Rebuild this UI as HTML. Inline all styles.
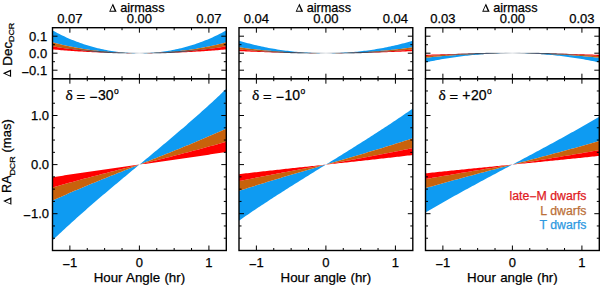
<!DOCTYPE html>
<html><head><meta charset="utf-8"><style>html,body{margin:0;padding:0;background:#fff;width:600px;height:285px;overflow:hidden}svg{display:block}</style></head>
<body><svg width="600" height="285" viewBox="0 0 600 285">
<style>text{stroke:#000;stroke-width:0.25;paint-order:normal}</style>
<rect width="600" height="285" fill="#fff"/>
<clipPath id="ct0"><rect x="52.5" y="27.7" width="173.8" height="51.0"/></clipPath>
<clipPath id="cb0"><rect x="52.5" y="78.7" width="173.8" height="171.8"/></clipPath>
<polygon clip-path="url(#ct0)" fill="#0e9bf2" stroke="#0e9bf2" stroke-width="0.0" stroke-linejoin="round" points="52.50,42.37 54.24,42.83 55.98,43.27 57.71,43.70 59.45,44.12 61.19,44.53 62.93,44.93 64.67,45.32 66.40,45.70 68.14,46.07 69.88,46.42 71.62,46.77 73.36,47.11 75.09,47.43 76.83,47.75 78.57,48.06 80.31,48.36 82.05,48.64 83.78,48.92 85.52,49.19 87.26,49.45 89.00,49.70 90.74,49.94 92.47,50.18 94.21,50.40 95.95,50.61 97.69,50.82 99.43,51.02 101.16,51.20 102.90,51.38 104.64,51.55 106.38,51.72 108.12,51.87 109.85,52.01 111.59,52.15 113.33,52.28 115.07,52.40 116.81,52.51 118.54,52.61 120.28,52.71 122.02,52.79 123.76,52.87 125.50,52.94 127.23,53.00 128.97,53.05 130.71,53.10 132.45,53.13 134.19,53.16 135.92,53.18 137.66,53.20 139.40,53.20 141.14,53.20 142.88,53.18 144.61,53.16 146.35,53.13 148.09,53.10 149.83,53.05 151.57,53.00 153.30,52.94 155.04,52.87 156.78,52.79 158.52,52.71 160.26,52.61 161.99,52.51 163.73,52.40 165.47,52.28 167.21,52.15 168.95,52.01 170.68,51.87 172.42,51.72 174.16,51.55 175.90,51.38 177.64,51.20 179.37,51.02 181.11,50.82 182.85,50.61 184.59,50.40 186.33,50.18 188.06,49.94 189.80,49.70 191.54,49.45 193.28,49.19 195.02,48.92 196.75,48.64 198.49,48.36 200.23,48.06 201.97,47.75 203.71,47.43 205.44,47.11 207.18,46.77 208.92,46.42 210.66,46.07 212.40,45.70 214.13,45.32 215.87,44.93 217.61,44.53 219.35,44.12 221.09,43.70 222.82,43.27 224.56,42.83 226.30,42.37 226.30,30.40 224.56,31.35 222.82,32.29 221.09,33.19 219.35,34.08 217.61,34.94 215.87,35.78 214.13,36.60 212.40,37.40 210.66,38.17 208.92,38.93 207.18,39.66 205.44,40.37 203.71,41.05 201.97,41.72 200.23,42.37 198.49,43.00 196.75,43.60 195.02,44.19 193.28,44.76 191.54,45.31 189.80,45.83 188.06,46.34 186.33,46.83 184.59,47.30 182.85,47.75 181.11,48.19 179.37,48.60 177.64,49.00 175.90,49.37 174.16,49.73 172.42,50.07 170.68,50.40 168.95,50.70 167.21,50.99 165.47,51.26 163.73,51.51 161.99,51.74 160.26,51.96 158.52,52.16 156.78,52.34 155.04,52.50 153.30,52.65 151.57,52.78 149.83,52.89 148.09,52.99 146.35,53.06 144.61,53.12 142.88,53.17 141.14,53.19 139.40,53.20 137.66,53.19 135.92,53.17 134.19,53.12 132.45,53.06 130.71,52.99 128.97,52.89 127.23,52.78 125.50,52.65 123.76,52.50 122.02,52.34 120.28,52.16 118.54,51.96 116.81,51.74 115.07,51.51 113.33,51.26 111.59,50.99 109.85,50.70 108.12,50.40 106.38,50.07 104.64,49.73 102.90,49.37 101.16,49.00 99.43,48.60 97.69,48.19 95.95,47.75 94.21,47.30 92.47,46.83 90.74,46.34 89.00,45.83 87.26,45.31 85.52,44.76 83.78,44.19 82.05,43.60 80.31,43.00 78.57,42.37 76.83,41.72 75.09,41.05 73.36,40.37 71.62,39.66 69.88,38.93 68.14,38.17 66.40,37.40 64.67,36.60 62.93,35.78 61.19,34.94 59.45,34.08 57.71,33.19 55.98,32.29 54.24,31.35 52.50,30.40"/>
<polygon clip-path="url(#ct0)" fill="#c8620c" stroke="#c8620c" stroke-width="0.0" stroke-linejoin="round" points="52.50,46.30 54.24,46.59 55.98,46.87 57.71,47.15 59.45,47.42 61.19,47.68 62.93,47.93 64.67,48.18 66.40,48.42 68.14,48.66 69.88,48.88 71.62,49.10 73.36,49.32 75.09,49.53 76.83,49.73 78.57,49.92 80.31,50.11 82.05,50.30 83.78,50.48 85.52,50.65 87.26,50.81 89.00,50.97 90.74,51.13 92.47,51.27 94.21,51.42 95.95,51.55 97.69,51.68 99.43,51.81 101.16,51.93 102.90,52.04 104.64,52.15 106.38,52.25 108.12,52.35 109.85,52.44 111.59,52.53 113.33,52.61 115.07,52.69 116.81,52.76 118.54,52.82 120.28,52.88 122.02,52.94 123.76,52.99 125.50,53.03 127.23,53.07 128.97,53.11 130.71,53.14 132.45,53.16 134.19,53.18 135.92,53.19 137.66,53.20 139.40,53.20 141.14,53.20 142.88,53.19 144.61,53.18 146.35,53.16 148.09,53.14 149.83,53.11 151.57,53.07 153.30,53.03 155.04,52.99 156.78,52.94 158.52,52.88 160.26,52.82 161.99,52.76 163.73,52.69 165.47,52.61 167.21,52.53 168.95,52.44 170.68,52.35 172.42,52.25 174.16,52.15 175.90,52.04 177.64,51.93 179.37,51.81 181.11,51.68 182.85,51.55 184.59,51.42 186.33,51.27 188.06,51.13 189.80,50.97 191.54,50.81 193.28,50.65 195.02,50.48 196.75,50.30 198.49,50.11 200.23,49.92 201.97,49.73 203.71,49.53 205.44,49.32 207.18,49.10 208.92,48.88 210.66,48.66 212.40,48.42 214.13,48.18 215.87,47.93 217.61,47.68 219.35,47.42 221.09,47.15 222.82,46.87 224.56,46.59 226.30,46.30 226.30,42.37 224.56,42.83 222.82,43.27 221.09,43.70 219.35,44.12 217.61,44.53 215.87,44.93 214.13,45.32 212.40,45.70 210.66,46.07 208.92,46.42 207.18,46.77 205.44,47.11 203.71,47.43 201.97,47.75 200.23,48.06 198.49,48.36 196.75,48.64 195.02,48.92 193.28,49.19 191.54,49.45 189.80,49.70 188.06,49.94 186.33,50.18 184.59,50.40 182.85,50.61 181.11,50.82 179.37,51.02 177.64,51.20 175.90,51.38 174.16,51.55 172.42,51.72 170.68,51.87 168.95,52.01 167.21,52.15 165.47,52.28 163.73,52.40 161.99,52.51 160.26,52.61 158.52,52.71 156.78,52.79 155.04,52.87 153.30,52.94 151.57,53.00 149.83,53.05 148.09,53.10 146.35,53.13 144.61,53.16 142.88,53.18 141.14,53.20 139.40,53.20 137.66,53.20 135.92,53.18 134.19,53.16 132.45,53.13 130.71,53.10 128.97,53.05 127.23,53.00 125.50,52.94 123.76,52.87 122.02,52.79 120.28,52.71 118.54,52.61 116.81,52.51 115.07,52.40 113.33,52.28 111.59,52.15 109.85,52.01 108.12,51.87 106.38,51.72 104.64,51.55 102.90,51.38 101.16,51.20 99.43,51.02 97.69,50.82 95.95,50.61 94.21,50.40 92.47,50.18 90.74,49.94 89.00,49.70 87.26,49.45 85.52,49.19 83.78,48.92 82.05,48.64 80.31,48.36 78.57,48.06 76.83,47.75 75.09,47.43 73.36,47.11 71.62,46.77 69.88,46.42 68.14,46.07 66.40,45.70 64.67,45.32 62.93,44.93 61.19,44.53 59.45,44.12 57.71,43.70 55.98,43.27 54.24,42.83 52.50,42.37"/>
<polygon clip-path="url(#ct0)" fill="#ff0000" stroke="#ff0000" stroke-width="0.0" stroke-linejoin="round" points="52.50,49.38 54.24,49.54 55.98,49.70 57.71,49.85 59.45,50.00 61.19,50.14 62.93,50.28 64.67,50.42 66.40,50.55 68.14,50.68 69.88,50.81 71.62,50.93 73.36,51.05 75.09,51.17 76.83,51.28 78.57,51.39 80.31,51.49 82.05,51.59 83.78,51.69 85.52,51.79 87.26,51.88 89.00,51.97 90.74,52.05 92.47,52.13 94.21,52.21 95.95,52.29 97.69,52.36 99.43,52.43 101.16,52.50 102.90,52.56 104.64,52.62 106.38,52.68 108.12,52.73 109.85,52.78 111.59,52.83 113.33,52.87 115.07,52.92 116.81,52.96 118.54,52.99 120.28,53.03 122.02,53.06 123.76,53.08 125.50,53.11 127.23,53.13 128.97,53.15 130.71,53.16 132.45,53.18 134.19,53.19 135.92,53.19 137.66,53.20 139.40,53.20 141.14,53.20 142.88,53.19 144.61,53.19 146.35,53.18 148.09,53.16 149.83,53.15 151.57,53.13 153.30,53.11 155.04,53.08 156.78,53.06 158.52,53.03 160.26,52.99 161.99,52.96 163.73,52.92 165.47,52.87 167.21,52.83 168.95,52.78 170.68,52.73 172.42,52.68 174.16,52.62 175.90,52.56 177.64,52.50 179.37,52.43 181.11,52.36 182.85,52.29 184.59,52.21 186.33,52.13 188.06,52.05 189.80,51.97 191.54,51.88 193.28,51.79 195.02,51.69 196.75,51.59 198.49,51.49 200.23,51.39 201.97,51.28 203.71,51.17 205.44,51.05 207.18,50.93 208.92,50.81 210.66,50.68 212.40,50.55 214.13,50.42 215.87,50.28 217.61,50.14 219.35,50.00 221.09,49.85 222.82,49.70 224.56,49.54 226.30,49.38 226.30,46.30 224.56,46.59 222.82,46.87 221.09,47.15 219.35,47.42 217.61,47.68 215.87,47.93 214.13,48.18 212.40,48.42 210.66,48.66 208.92,48.88 207.18,49.10 205.44,49.32 203.71,49.53 201.97,49.73 200.23,49.92 198.49,50.11 196.75,50.30 195.02,50.48 193.28,50.65 191.54,50.81 189.80,50.97 188.06,51.13 186.33,51.27 184.59,51.42 182.85,51.55 181.11,51.68 179.37,51.81 177.64,51.93 175.90,52.04 174.16,52.15 172.42,52.25 170.68,52.35 168.95,52.44 167.21,52.53 165.47,52.61 163.73,52.69 161.99,52.76 160.26,52.82 158.52,52.88 156.78,52.94 155.04,52.99 153.30,53.03 151.57,53.07 149.83,53.11 148.09,53.14 146.35,53.16 144.61,53.18 142.88,53.19 141.14,53.20 139.40,53.20 137.66,53.20 135.92,53.19 134.19,53.18 132.45,53.16 130.71,53.14 128.97,53.11 127.23,53.07 125.50,53.03 123.76,52.99 122.02,52.94 120.28,52.88 118.54,52.82 116.81,52.76 115.07,52.69 113.33,52.61 111.59,52.53 109.85,52.44 108.12,52.35 106.38,52.25 104.64,52.15 102.90,52.04 101.16,51.93 99.43,51.81 97.69,51.68 95.95,51.55 94.21,51.42 92.47,51.27 90.74,51.13 89.00,50.97 87.26,50.81 85.52,50.65 83.78,50.48 82.05,50.30 80.31,50.11 78.57,49.92 76.83,49.73 75.09,49.53 73.36,49.32 71.62,49.10 69.88,48.88 68.14,48.66 66.40,48.42 64.67,48.18 62.93,47.93 61.19,47.68 59.45,47.42 57.71,47.15 55.98,46.87 54.24,46.59 52.50,46.30"/>
<linearGradient id="lg0" gradientUnits="userSpaceOnUse" x1="52.5" y1="0" x2="226.3" y2="0"><stop offset="0" stop-color="#30475e" stop-opacity="0"/><stop offset="0.14" stop-color="#30475e" stop-opacity="0.3"/><stop offset="0.3" stop-color="#30475e" stop-opacity="0.95"/><stop offset="0.42" stop-color="#30475e" stop-opacity="0.5"/><stop offset="0.5" stop-color="#30475e" stop-opacity="0.12"/><stop offset="0.58" stop-color="#30475e" stop-opacity="0.5"/><stop offset="0.7" stop-color="#30475e" stop-opacity="0.95"/><stop offset="0.86" stop-color="#30475e" stop-opacity="0.3"/><stop offset="1" stop-color="#30475e" stop-opacity="0"/></linearGradient>
<path d="M52.50,45.78 L54.24,46.10 L55.98,46.40 L57.71,46.69 L59.45,46.98 L61.19,47.26 L62.93,47.54 L64.67,47.80 L66.40,48.06 L68.14,48.31 L69.88,48.56 L71.62,48.80 L73.36,49.03 L75.09,49.25 L76.83,49.47 L78.57,49.68 L80.31,49.88 L82.05,50.08 L83.78,50.27 L85.52,50.45 L87.26,50.63 L89.00,50.80 L90.74,50.97 L92.47,51.13 L94.21,51.28 L95.95,51.43 L97.69,51.57 L99.43,51.70 L101.16,51.83 L102.90,51.96 L104.64,52.07 L106.38,52.18 L108.12,52.29 L109.85,52.39 L111.59,52.48 L113.33,52.57 L115.07,52.65 L116.81,52.73 L118.54,52.80 L120.28,52.86 L122.02,52.92 L123.76,52.97 L125.50,53.02 L127.23,53.06 L128.97,53.10 L130.71,53.13 L132.45,53.16 L134.19,53.17 L135.92,53.19 L137.66,53.20 L139.40,53.20 L141.14,53.20 L142.88,53.19 L144.61,53.17 L146.35,53.16 L148.09,53.13 L149.83,53.10 L151.57,53.06 L153.30,53.02 L155.04,52.97 L156.78,52.92 L158.52,52.86 L160.26,52.80 L161.99,52.73 L163.73,52.65 L165.47,52.57 L167.21,52.48 L168.95,52.39 L170.68,52.29 L172.42,52.18 L174.16,52.07 L175.90,51.96 L177.64,51.83 L179.37,51.70 L181.11,51.57 L182.85,51.43 L184.59,51.28 L186.33,51.13 L188.06,50.97 L189.80,50.80 L191.54,50.63 L193.28,50.45 L195.02,50.27 L196.75,50.08 L198.49,49.88 L200.23,49.68 L201.97,49.47 L203.71,49.25 L205.44,49.03 L207.18,48.80 L208.92,48.56 L210.66,48.31 L212.40,48.06 L214.13,47.80 L215.87,47.54 L217.61,47.26 L219.35,46.98 L221.09,46.69 L222.82,46.40 L224.56,46.10 L226.30,45.78" fill="none" stroke="url(#lg0)" stroke-width="1.2" clip-path="url(#ct0)"/>
<polygon clip-path="url(#cb0)" fill="#0e9bf2" stroke="#0e9bf2" stroke-width="0.0" stroke-linejoin="round" points="52.50,200.61 54.24,199.81 55.98,199.02 57.71,198.24 59.45,197.46 61.19,196.68 62.93,195.91 64.67,195.14 66.40,194.38 68.14,193.62 69.88,192.87 71.62,192.11 73.36,191.37 75.09,190.62 76.83,189.88 78.57,189.14 80.31,188.41 82.05,187.67 83.78,186.95 85.52,186.22 87.26,185.50 89.00,184.78 90.74,184.06 92.47,183.34 94.21,182.63 95.95,181.92 97.69,181.21 99.43,180.50 101.16,179.80 102.90,179.09 104.64,178.39 106.38,177.69 108.12,176.99 109.85,176.30 111.59,175.60 113.33,174.91 115.07,174.21 116.81,173.52 118.54,172.83 120.28,172.14 122.02,171.45 123.76,170.77 125.50,170.08 127.23,169.39 128.97,168.71 130.71,168.02 132.45,167.34 134.19,166.65 135.92,165.97 137.66,165.28 139.40,164.60 141.14,163.92 142.88,163.23 144.61,162.55 146.35,161.86 148.09,161.18 149.83,160.49 151.57,159.81 153.30,159.12 155.04,158.43 156.78,157.75 158.52,157.06 160.26,156.37 161.99,155.68 163.73,154.99 165.47,154.29 167.21,153.60 168.95,152.90 170.68,152.21 172.42,151.51 174.16,150.81 175.90,150.11 177.64,149.40 179.37,148.70 181.11,147.99 182.85,147.28 184.59,146.57 186.33,145.86 188.06,145.14 189.80,144.42 191.54,143.70 193.28,142.98 195.02,142.25 196.75,141.53 198.49,140.79 200.23,140.06 201.97,139.32 203.71,138.58 205.44,137.83 207.18,137.09 208.92,136.33 210.66,135.58 212.40,134.82 214.13,134.06 215.87,133.29 217.61,132.52 219.35,131.74 221.09,130.96 222.82,130.18 224.56,129.39 226.30,128.59 226.30,88.76 224.56,90.44 222.82,92.10 221.09,93.75 219.35,95.39 217.61,97.03 215.87,98.65 214.13,100.27 212.40,101.88 210.66,103.48 208.92,105.07 207.18,106.65 205.44,108.23 203.71,109.80 201.97,111.36 200.23,112.91 198.49,114.46 196.75,116.00 195.02,117.54 193.28,119.07 191.54,120.59 189.80,122.11 188.06,123.62 186.33,125.13 184.59,126.63 182.85,128.13 181.11,129.62 179.37,131.11 177.64,132.60 175.90,134.08 174.16,135.56 172.42,137.03 170.68,138.50 168.95,139.97 167.21,141.43 165.47,142.89 163.73,144.35 161.99,145.81 160.26,147.26 158.52,148.71 156.78,150.16 155.04,151.61 153.30,153.06 151.57,154.51 149.83,155.95 148.09,157.39 146.35,158.84 144.61,160.28 142.88,161.72 141.14,163.16 139.40,164.60 137.66,166.04 135.92,167.48 134.19,168.92 132.45,170.36 130.71,171.81 128.97,173.25 127.23,174.69 125.50,176.14 123.76,177.59 122.02,179.04 120.28,180.49 118.54,181.94 116.81,183.39 115.07,184.85 113.33,186.31 111.59,187.77 109.85,189.23 108.12,190.70 106.38,192.17 104.64,193.64 102.90,195.12 101.16,196.60 99.43,198.09 97.69,199.58 95.95,201.07 94.21,202.57 92.47,204.07 90.74,205.58 89.00,207.09 87.26,208.61 85.52,210.13 83.78,211.66 82.05,213.20 80.31,214.74 78.57,216.29 76.83,217.84 75.09,219.40 73.36,220.97 71.62,222.55 69.88,224.13 68.14,225.72 66.40,227.32 64.67,228.93 62.93,230.55 61.19,232.17 59.45,233.81 57.71,235.45 55.98,237.10 54.24,238.76 52.50,240.44"/>
<polygon clip-path="url(#cb0)" fill="#c8620c" stroke="#c8620c" stroke-width="0.0" stroke-linejoin="round" points="52.50,187.54 54.24,187.03 55.98,186.53 57.71,186.03 59.45,185.53 61.19,185.04 62.93,184.54 64.67,184.06 66.40,183.57 68.14,183.09 69.88,182.60 71.62,182.13 73.36,181.65 75.09,181.18 76.83,180.70 78.57,180.23 80.31,179.76 82.05,179.30 83.78,178.83 85.52,178.37 87.26,177.91 89.00,177.45 90.74,176.99 92.47,176.54 94.21,176.08 95.95,175.63 97.69,175.18 99.43,174.73 101.16,174.28 102.90,173.83 104.64,173.38 106.38,172.94 108.12,172.49 109.85,172.05 111.59,171.61 113.33,171.17 115.07,170.72 116.81,170.28 118.54,169.84 120.28,169.40 122.02,168.97 123.76,168.53 125.50,168.09 127.23,167.65 128.97,167.22 130.71,166.78 132.45,166.34 134.19,165.91 135.92,165.47 137.66,165.04 139.40,164.60 141.14,164.16 142.88,163.73 144.61,163.29 146.35,162.86 148.09,162.42 149.83,161.98 151.57,161.55 153.30,161.11 155.04,160.67 156.78,160.23 158.52,159.80 160.26,159.36 161.99,158.92 163.73,158.48 165.47,158.03 167.21,157.59 168.95,157.15 170.68,156.71 172.42,156.26 174.16,155.82 175.90,155.37 177.64,154.92 179.37,154.47 181.11,154.02 182.85,153.57 184.59,153.12 186.33,152.66 188.06,152.21 189.80,151.75 191.54,151.29 193.28,150.83 195.02,150.37 196.75,149.90 198.49,149.44 200.23,148.97 201.97,148.50 203.71,148.02 205.44,147.55 207.18,147.07 208.92,146.60 210.66,146.11 212.40,145.63 214.13,145.14 215.87,144.66 217.61,144.16 219.35,143.67 221.09,143.17 222.82,142.67 224.56,142.17 226.30,141.66 226.30,128.59 224.56,129.39 222.82,130.18 221.09,130.96 219.35,131.74 217.61,132.52 215.87,133.29 214.13,134.06 212.40,134.82 210.66,135.58 208.92,136.33 207.18,137.09 205.44,137.83 203.71,138.58 201.97,139.32 200.23,140.06 198.49,140.79 196.75,141.53 195.02,142.25 193.28,142.98 191.54,143.70 189.80,144.42 188.06,145.14 186.33,145.86 184.59,146.57 182.85,147.28 181.11,147.99 179.37,148.70 177.64,149.40 175.90,150.11 174.16,150.81 172.42,151.51 170.68,152.21 168.95,152.90 167.21,153.60 165.47,154.29 163.73,154.99 161.99,155.68 160.26,156.37 158.52,157.06 156.78,157.75 155.04,158.43 153.30,159.12 151.57,159.81 149.83,160.49 148.09,161.18 146.35,161.86 144.61,162.55 142.88,163.23 141.14,163.92 139.40,164.60 137.66,165.28 135.92,165.97 134.19,166.65 132.45,167.34 130.71,168.02 128.97,168.71 127.23,169.39 125.50,170.08 123.76,170.77 122.02,171.45 120.28,172.14 118.54,172.83 116.81,173.52 115.07,174.21 113.33,174.91 111.59,175.60 109.85,176.30 108.12,176.99 106.38,177.69 104.64,178.39 102.90,179.09 101.16,179.80 99.43,180.50 97.69,181.21 95.95,181.92 94.21,182.63 92.47,183.34 90.74,184.06 89.00,184.78 87.26,185.50 85.52,186.22 83.78,186.95 82.05,187.67 80.31,188.41 78.57,189.14 76.83,189.88 75.09,190.62 73.36,191.37 71.62,192.11 69.88,192.87 68.14,193.62 66.40,194.38 64.67,195.14 62.93,195.91 61.19,196.68 59.45,197.46 57.71,198.24 55.98,199.02 54.24,199.81 52.50,200.61"/>
<polygon clip-path="url(#cb0)" fill="#ff0000" stroke="#ff0000" stroke-width="0.0" stroke-linejoin="round" points="52.50,177.30 54.24,177.02 55.98,176.74 57.71,176.47 59.45,176.19 61.19,175.92 62.93,175.64 64.67,175.37 66.40,175.10 68.14,174.84 69.88,174.57 71.62,174.31 73.36,174.04 75.09,173.78 76.83,173.52 78.57,173.26 80.31,173.00 82.05,172.74 83.78,172.48 85.52,172.23 87.26,171.97 89.00,171.72 90.74,171.46 92.47,171.21 94.21,170.96 95.95,170.71 97.69,170.46 99.43,170.21 101.16,169.96 102.90,169.71 104.64,169.46 106.38,169.22 108.12,168.97 109.85,168.73 111.59,168.48 113.33,168.24 115.07,167.99 116.81,167.75 118.54,167.50 120.28,167.26 122.02,167.02 123.76,166.78 125.50,166.53 127.23,166.29 128.97,166.05 130.71,165.81 132.45,165.57 134.19,165.32 135.92,165.08 137.66,164.84 139.40,164.60 141.14,164.36 142.88,164.12 144.61,163.88 146.35,163.63 148.09,163.39 149.83,163.15 151.57,162.91 153.30,162.67 155.04,162.42 156.78,162.18 158.52,161.94 160.26,161.70 161.99,161.45 163.73,161.21 165.47,160.96 167.21,160.72 168.95,160.47 170.68,160.23 172.42,159.98 174.16,159.74 175.90,159.49 177.64,159.24 179.37,158.99 181.11,158.74 182.85,158.49 184.59,158.24 186.33,157.99 188.06,157.74 189.80,157.48 191.54,157.23 193.28,156.97 195.02,156.72 196.75,156.46 198.49,156.20 200.23,155.94 201.97,155.68 203.71,155.42 205.44,155.16 207.18,154.89 208.92,154.63 210.66,154.36 212.40,154.10 214.13,153.83 215.87,153.56 217.61,153.28 219.35,153.01 221.09,152.73 222.82,152.46 224.56,152.18 226.30,151.90 226.30,141.66 224.56,142.17 222.82,142.67 221.09,143.17 219.35,143.67 217.61,144.16 215.87,144.66 214.13,145.14 212.40,145.63 210.66,146.11 208.92,146.60 207.18,147.07 205.44,147.55 203.71,148.02 201.97,148.50 200.23,148.97 198.49,149.44 196.75,149.90 195.02,150.37 193.28,150.83 191.54,151.29 189.80,151.75 188.06,152.21 186.33,152.66 184.59,153.12 182.85,153.57 181.11,154.02 179.37,154.47 177.64,154.92 175.90,155.37 174.16,155.82 172.42,156.26 170.68,156.71 168.95,157.15 167.21,157.59 165.47,158.03 163.73,158.48 161.99,158.92 160.26,159.36 158.52,159.80 156.78,160.23 155.04,160.67 153.30,161.11 151.57,161.55 149.83,161.98 148.09,162.42 146.35,162.86 144.61,163.29 142.88,163.73 141.14,164.16 139.40,164.60 137.66,165.04 135.92,165.47 134.19,165.91 132.45,166.34 130.71,166.78 128.97,167.22 127.23,167.65 125.50,168.09 123.76,168.53 122.02,168.97 120.28,169.40 118.54,169.84 116.81,170.28 115.07,170.72 113.33,171.17 111.59,171.61 109.85,172.05 108.12,172.49 106.38,172.94 104.64,173.38 102.90,173.83 101.16,174.28 99.43,174.73 97.69,175.18 95.95,175.63 94.21,176.08 92.47,176.54 90.74,176.99 89.00,177.45 87.26,177.91 85.52,178.37 83.78,178.83 82.05,179.30 80.31,179.76 78.57,180.23 76.83,180.70 75.09,181.18 73.36,181.65 71.62,182.13 69.88,182.60 68.14,183.09 66.40,183.57 64.67,184.06 62.93,184.54 61.19,185.04 59.45,185.53 57.71,186.03 55.98,186.53 54.24,187.03 52.50,187.54"/>
<path d="M69.88,250.5v-5M69.88,78.7v5M69.88,27.7v5M69.88,78.7v-5M87.26,250.5v-2.5M87.26,78.7v2.5M87.26,27.7v2.5M87.26,78.7v-2.5M104.64,250.5v-2.5M104.64,78.7v2.5M104.64,27.7v2.5M104.64,78.7v-2.5M122.02,250.5v-2.5M122.02,78.7v2.5M122.02,27.7v2.5M122.02,78.7v-2.5M139.40,250.5v-5M139.40,78.7v5M139.40,27.7v5M139.40,78.7v-5M156.78,250.5v-2.5M156.78,78.7v2.5M156.78,27.7v2.5M156.78,78.7v-2.5M174.16,250.5v-2.5M174.16,78.7v2.5M174.16,27.7v2.5M174.16,78.7v-2.5M191.54,250.5v-2.5M191.54,78.7v2.5M191.54,27.7v2.5M191.54,78.7v-2.5M208.92,250.5v-5M208.92,78.7v5M208.92,27.7v5M208.92,78.7v-5M52.5,238.23h2.5M226.3,238.23h-2.5M52.5,225.96h2.5M226.3,225.96h-2.5M52.5,213.69h5M226.3,213.69h-5M52.5,201.41h2.5M226.3,201.41h-2.5M52.5,189.14h2.5M226.3,189.14h-2.5M52.5,176.87h2.5M226.3,176.87h-2.5M52.5,164.60h5M226.3,164.60h-5M52.5,152.33h2.5M226.3,152.33h-2.5M52.5,140.06h2.5M226.3,140.06h-2.5M52.5,127.79h2.5M226.3,127.79h-2.5M52.5,115.51h5M226.3,115.51h-5M52.5,103.24h2.5M226.3,103.24h-2.5M52.5,90.97h2.5M226.3,90.97h-2.5M52.5,70.20h5M226.3,70.20h-5M52.5,61.70h2.5M226.3,61.70h-2.5M52.5,53.20h5M226.3,53.20h-5M52.5,44.70h2.5M226.3,44.70h-2.5M52.5,36.20h5M226.3,36.20h-5" stroke="#000" stroke-width="1" fill="none"/>
<rect x="52.5" y="27.7" width="173.8" height="51.0" fill="none" stroke="#000" stroke-width="1.4"/>
<rect x="52.5" y="78.7" width="173.8" height="171.8" fill="none" stroke="#000" stroke-width="1.4"/>
<g font-family='"Liberation Sans", sans-serif' font-size="13" fill="#000" text-anchor="middle">
<text x="69.88" y="267.2"><tspan dy="1.8">&#8722;</tspan><tspan dy="-1.8">1</tspan></text>
<text x="139.40" y="267.2">0</text>
<text x="208.92" y="267.2">1</text>
<text x="139.40" y="281.8" font-size="13.3" word-spacing="0.6">Hour Angle (hr)</text>
<text x="69.88" y="23.0">0.07</text>
<text x="139.40" y="23.0">0.00</text>
<text x="208.92" y="23.0">0.07</text>
<path transform="translate(109.15,3.5)" d="M0,8.30L3.75,0L7.50,8.30ZM1.34,7.15L3.42,2.55L5.50,7.15Z" fill="#000" fill-rule="evenodd"/>
<text x="120.15" y="11.7" font-size="12.7" text-anchor="start">airmass</text>
</g>
<g font-family='"Liberation Sans", sans-serif' font-size="14">
<text x="65.60" y="100.3" font-family="'Liberation Serif', serif" font-size="15.5">&#948;</text>
<text transform="translate(76.40,100.6) scale(1.05,0.78)">=</text>
<text x="89.30" y="100.3"><tspan dy="1.8">&#8722;</tspan></text>
<text x="97.90" y="100.3">30</text>
<text x="114.00" y="93.6" font-size="8.5">o</text>
</g>
<clipPath id="ct1"><rect x="239.0" y="27.7" width="173.8" height="51.0"/></clipPath>
<clipPath id="cb1"><rect x="239.0" y="78.7" width="173.8" height="171.8"/></clipPath>
<polygon clip-path="url(#ct1)" fill="#0e9bf2" stroke="#0e9bf2" stroke-width="0.0" stroke-linejoin="round" points="239.00,47.32 240.74,47.56 242.48,47.80 244.21,48.03 245.95,48.26 247.69,48.48 249.43,48.70 251.17,48.91 252.90,49.11 254.64,49.31 256.38,49.50 258.12,49.69 259.86,49.87 261.59,50.05 263.33,50.22 265.07,50.39 266.81,50.55 268.55,50.71 270.28,50.86 272.02,51.01 273.76,51.15 275.50,51.29 277.24,51.42 278.97,51.54 280.71,51.67 282.45,51.78 284.19,51.90 285.93,52.00 287.66,52.11 289.40,52.20 291.14,52.30 292.88,52.39 294.62,52.47 296.35,52.55 298.09,52.62 299.83,52.69 301.57,52.76 303.31,52.82 305.04,52.88 306.78,52.93 308.52,52.98 310.26,53.02 312.00,53.06 313.73,53.09 315.47,53.12 317.21,53.14 318.95,53.16 320.69,53.18 322.42,53.19 324.16,53.20 325.90,53.20 327.64,53.20 329.38,53.19 331.11,53.18 332.85,53.16 334.59,53.14 336.33,53.12 338.07,53.09 339.80,53.06 341.54,53.02 343.28,52.98 345.02,52.93 346.76,52.88 348.49,52.82 350.23,52.76 351.97,52.69 353.71,52.62 355.45,52.55 357.18,52.47 358.92,52.39 360.66,52.30 362.40,52.20 364.14,52.11 365.87,52.00 367.61,51.90 369.35,51.78 371.09,51.67 372.83,51.54 374.56,51.42 376.30,51.29 378.04,51.15 379.78,51.01 381.52,50.86 383.25,50.71 384.99,50.55 386.73,50.39 388.47,50.22 390.21,50.05 391.94,49.87 393.68,49.69 395.42,49.50 397.16,49.31 398.90,49.11 400.63,48.91 402.37,48.70 404.11,48.48 405.85,48.26 407.59,48.03 409.32,47.80 411.06,47.56 412.80,47.32 412.80,40.67 411.06,41.19 409.32,41.70 407.59,42.19 405.85,42.68 404.11,43.15 402.37,43.61 400.63,44.05 398.90,44.49 397.16,44.91 395.42,45.32 393.68,45.72 391.94,46.11 390.21,46.49 388.47,46.86 386.73,47.21 384.99,47.56 383.25,47.89 381.52,48.22 379.78,48.53 378.04,48.83 376.30,49.12 374.56,49.40 372.83,49.67 371.09,49.93 369.35,50.18 367.61,50.42 365.87,50.65 364.14,50.87 362.40,51.08 360.66,51.28 358.92,51.47 357.18,51.64 355.45,51.81 353.71,51.97 351.97,52.12 350.23,52.26 348.49,52.39 346.76,52.51 345.02,52.62 343.28,52.72 341.54,52.81 339.80,52.89 338.07,52.97 336.33,53.03 334.59,53.08 332.85,53.12 331.11,53.16 329.38,53.18 327.64,53.20 325.90,53.20 324.16,53.20 322.42,53.18 320.69,53.16 318.95,53.12 317.21,53.08 315.47,53.03 313.73,52.97 312.00,52.89 310.26,52.81 308.52,52.72 306.78,52.62 305.04,52.51 303.31,52.39 301.57,52.26 299.83,52.12 298.09,51.97 296.35,51.81 294.62,51.64 292.88,51.47 291.14,51.28 289.40,51.08 287.66,50.87 285.93,50.65 284.19,50.42 282.45,50.18 280.71,49.93 278.97,49.67 277.24,49.40 275.50,49.12 273.76,48.83 272.02,48.53 270.28,48.22 268.55,47.89 266.81,47.56 265.07,47.21 263.33,46.86 261.59,46.49 259.86,46.11 258.12,45.72 256.38,45.32 254.64,44.91 252.90,44.49 251.17,44.05 249.43,43.61 247.69,43.15 245.95,42.68 244.21,42.19 242.48,41.70 240.74,41.19 239.00,40.67"/>
<polygon clip-path="url(#ct1)" fill="#c8620c" stroke="#c8620c" stroke-width="0.0" stroke-linejoin="round" points="239.00,49.51 240.74,49.66 242.48,49.81 244.21,49.96 245.95,50.10 247.69,50.24 249.43,50.37 251.17,50.51 252.90,50.63 254.64,50.76 256.38,50.88 258.12,51.00 259.86,51.11 261.59,51.22 263.33,51.33 265.07,51.44 266.81,51.54 268.55,51.64 270.28,51.73 272.02,51.82 273.76,51.91 275.50,52.00 277.24,52.08 278.97,52.16 280.71,52.24 282.45,52.31 284.19,52.38 285.93,52.45 287.66,52.51 289.40,52.58 291.14,52.63 292.88,52.69 294.62,52.74 296.35,52.79 298.09,52.84 299.83,52.88 301.57,52.92 303.31,52.96 305.04,53.00 306.78,53.03 308.52,53.06 310.26,53.09 312.00,53.11 313.73,53.13 315.47,53.15 317.21,53.16 318.95,53.18 320.69,53.19 322.42,53.19 324.16,53.20 325.90,53.20 327.64,53.20 329.38,53.19 331.11,53.19 332.85,53.18 334.59,53.16 336.33,53.15 338.07,53.13 339.80,53.11 341.54,53.09 343.28,53.06 345.02,53.03 346.76,53.00 348.49,52.96 350.23,52.92 351.97,52.88 353.71,52.84 355.45,52.79 357.18,52.74 358.92,52.69 360.66,52.63 362.40,52.58 364.14,52.51 365.87,52.45 367.61,52.38 369.35,52.31 371.09,52.24 372.83,52.16 374.56,52.08 376.30,52.00 378.04,51.91 379.78,51.82 381.52,51.73 383.25,51.64 384.99,51.54 386.73,51.44 388.47,51.33 390.21,51.22 391.94,51.11 393.68,51.00 395.42,50.88 397.16,50.76 398.90,50.63 400.63,50.51 402.37,50.37 404.11,50.24 405.85,50.10 407.59,49.96 409.32,49.81 411.06,49.66 412.80,49.51 412.80,47.32 411.06,47.56 409.32,47.80 407.59,48.03 405.85,48.26 404.11,48.48 402.37,48.70 400.63,48.91 398.90,49.11 397.16,49.31 395.42,49.50 393.68,49.69 391.94,49.87 390.21,50.05 388.47,50.22 386.73,50.39 384.99,50.55 383.25,50.71 381.52,50.86 379.78,51.01 378.04,51.15 376.30,51.29 374.56,51.42 372.83,51.54 371.09,51.67 369.35,51.78 367.61,51.90 365.87,52.00 364.14,52.11 362.40,52.20 360.66,52.30 358.92,52.39 357.18,52.47 355.45,52.55 353.71,52.62 351.97,52.69 350.23,52.76 348.49,52.82 346.76,52.88 345.02,52.93 343.28,52.98 341.54,53.02 339.80,53.06 338.07,53.09 336.33,53.12 334.59,53.14 332.85,53.16 331.11,53.18 329.38,53.19 327.64,53.20 325.90,53.20 324.16,53.20 322.42,53.19 320.69,53.18 318.95,53.16 317.21,53.14 315.47,53.12 313.73,53.09 312.00,53.06 310.26,53.02 308.52,52.98 306.78,52.93 305.04,52.88 303.31,52.82 301.57,52.76 299.83,52.69 298.09,52.62 296.35,52.55 294.62,52.47 292.88,52.39 291.14,52.30 289.40,52.20 287.66,52.11 285.93,52.00 284.19,51.90 282.45,51.78 280.71,51.67 278.97,51.54 277.24,51.42 275.50,51.29 273.76,51.15 272.02,51.01 270.28,50.86 268.55,50.71 266.81,50.55 265.07,50.39 263.33,50.22 261.59,50.05 259.86,49.87 258.12,49.69 256.38,49.50 254.64,49.31 252.90,49.11 251.17,48.91 249.43,48.70 247.69,48.48 245.95,48.26 244.21,48.03 242.48,47.80 240.74,47.56 239.00,47.32"/>
<polygon clip-path="url(#ct1)" fill="#ff0000" stroke="#ff0000" stroke-width="0.0" stroke-linejoin="round" points="239.00,51.05 240.74,51.14 242.48,51.23 244.21,51.32 245.95,51.40 247.69,51.48 249.43,51.56 251.17,51.63 252.90,51.71 254.64,51.78 256.38,51.85 258.12,51.92 259.86,51.99 261.59,52.05 263.33,52.11 265.07,52.18 266.81,52.23 268.55,52.29 270.28,52.35 272.02,52.40 273.76,52.45 275.50,52.50 277.24,52.55 278.97,52.60 280.71,52.64 282.45,52.68 284.19,52.72 285.93,52.76 287.66,52.80 289.40,52.84 291.14,52.87 292.88,52.90 294.62,52.93 296.35,52.96 298.09,52.99 299.83,53.02 301.57,53.04 303.31,53.06 305.04,53.08 306.78,53.10 308.52,53.12 310.26,53.13 312.00,53.15 313.73,53.16 315.47,53.17 317.21,53.18 318.95,53.19 320.69,53.19 322.42,53.20 324.16,53.20 325.90,53.20 327.64,53.20 329.38,53.20 331.11,53.19 332.85,53.19 334.59,53.18 336.33,53.17 338.07,53.16 339.80,53.15 341.54,53.13 343.28,53.12 345.02,53.10 346.76,53.08 348.49,53.06 350.23,53.04 351.97,53.02 353.71,52.99 355.45,52.96 357.18,52.93 358.92,52.90 360.66,52.87 362.40,52.84 364.14,52.80 365.87,52.76 367.61,52.72 369.35,52.68 371.09,52.64 372.83,52.60 374.56,52.55 376.30,52.50 378.04,52.45 379.78,52.40 381.52,52.35 383.25,52.29 384.99,52.23 386.73,52.18 388.47,52.11 390.21,52.05 391.94,51.99 393.68,51.92 395.42,51.85 397.16,51.78 398.90,51.71 400.63,51.63 402.37,51.56 404.11,51.48 405.85,51.40 407.59,51.32 409.32,51.23 411.06,51.14 412.80,51.05 412.80,49.51 411.06,49.66 409.32,49.81 407.59,49.96 405.85,50.10 404.11,50.24 402.37,50.37 400.63,50.51 398.90,50.63 397.16,50.76 395.42,50.88 393.68,51.00 391.94,51.11 390.21,51.22 388.47,51.33 386.73,51.44 384.99,51.54 383.25,51.64 381.52,51.73 379.78,51.82 378.04,51.91 376.30,52.00 374.56,52.08 372.83,52.16 371.09,52.24 369.35,52.31 367.61,52.38 365.87,52.45 364.14,52.51 362.40,52.58 360.66,52.63 358.92,52.69 357.18,52.74 355.45,52.79 353.71,52.84 351.97,52.88 350.23,52.92 348.49,52.96 346.76,53.00 345.02,53.03 343.28,53.06 341.54,53.09 339.80,53.11 338.07,53.13 336.33,53.15 334.59,53.16 332.85,53.18 331.11,53.19 329.38,53.19 327.64,53.20 325.90,53.20 324.16,53.20 322.42,53.19 320.69,53.19 318.95,53.18 317.21,53.16 315.47,53.15 313.73,53.13 312.00,53.11 310.26,53.09 308.52,53.06 306.78,53.03 305.04,53.00 303.31,52.96 301.57,52.92 299.83,52.88 298.09,52.84 296.35,52.79 294.62,52.74 292.88,52.69 291.14,52.63 289.40,52.58 287.66,52.51 285.93,52.45 284.19,52.38 282.45,52.31 280.71,52.24 278.97,52.16 277.24,52.08 275.50,52.00 273.76,51.91 272.02,51.82 270.28,51.73 268.55,51.64 266.81,51.54 265.07,51.44 263.33,51.33 261.59,51.22 259.86,51.11 258.12,51.00 256.38,50.88 254.64,50.76 252.90,50.63 251.17,50.51 249.43,50.37 247.69,50.24 245.95,50.10 244.21,49.96 242.48,49.81 240.74,49.66 239.00,49.51"/>
<linearGradient id="lg1" gradientUnits="userSpaceOnUse" x1="239.0" y1="0" x2="412.8" y2="0"><stop offset="0" stop-color="#30475e" stop-opacity="0"/><stop offset="0.14" stop-color="#30475e" stop-opacity="0.3"/><stop offset="0.3" stop-color="#30475e" stop-opacity="0.95"/><stop offset="0.42" stop-color="#30475e" stop-opacity="0.5"/><stop offset="0.5" stop-color="#30475e" stop-opacity="0.12"/><stop offset="0.58" stop-color="#30475e" stop-opacity="0.5"/><stop offset="0.7" stop-color="#30475e" stop-opacity="0.95"/><stop offset="0.86" stop-color="#30475e" stop-opacity="0.3"/><stop offset="1" stop-color="#30475e" stop-opacity="0"/></linearGradient>
<path d="M239.00,49.14 L240.74,49.31 L242.48,49.48 L244.21,49.64 L245.95,49.79 L247.69,49.95 L249.43,50.09 L251.17,50.24 L252.90,50.38 L254.64,50.52 L256.38,50.65 L258.12,50.78 L259.86,50.91 L261.59,51.03 L263.33,51.15 L265.07,51.26 L266.81,51.37 L268.55,51.48 L270.28,51.59 L272.02,51.69 L273.76,51.79 L275.50,51.88 L277.24,51.97 L278.97,52.06 L280.71,52.14 L282.45,52.22 L284.19,52.30 L285.93,52.37 L287.66,52.45 L289.40,52.51 L291.14,52.58 L292.88,52.64 L294.62,52.70 L296.35,52.75 L298.09,52.80 L299.83,52.85 L301.57,52.90 L303.31,52.94 L305.04,52.98 L306.78,53.01 L308.52,53.05 L310.26,53.07 L312.00,53.10 L313.73,53.12 L315.47,53.14 L317.21,53.16 L318.95,53.18 L320.69,53.19 L322.42,53.19 L324.16,53.20 L325.90,53.20 L327.64,53.20 L329.38,53.19 L331.11,53.19 L332.85,53.18 L334.59,53.16 L336.33,53.14 L338.07,53.12 L339.80,53.10 L341.54,53.07 L343.28,53.05 L345.02,53.01 L346.76,52.98 L348.49,52.94 L350.23,52.90 L351.97,52.85 L353.71,52.80 L355.45,52.75 L357.18,52.70 L358.92,52.64 L360.66,52.58 L362.40,52.51 L364.14,52.45 L365.87,52.37 L367.61,52.30 L369.35,52.22 L371.09,52.14 L372.83,52.06 L374.56,51.97 L376.30,51.88 L378.04,51.79 L379.78,51.69 L381.52,51.59 L383.25,51.48 L384.99,51.37 L386.73,51.26 L388.47,51.15 L390.21,51.03 L391.94,50.91 L393.68,50.78 L395.42,50.65 L397.16,50.52 L398.90,50.38 L400.63,50.24 L402.37,50.09 L404.11,49.95 L405.85,49.79 L407.59,49.64 L409.32,49.48 L411.06,49.31 L412.80,49.14" fill="none" stroke="url(#lg1)" stroke-width="1.2" clip-path="url(#ct1)"/>
<polygon clip-path="url(#cb1)" fill="#0e9bf2" stroke="#0e9bf2" stroke-width="0.0" stroke-linejoin="round" points="239.00,190.90 240.74,190.33 242.48,189.77 244.21,189.20 245.95,188.64 247.69,188.08 249.43,187.53 251.17,186.98 252.90,186.42 254.64,185.88 256.38,185.33 258.12,184.79 259.86,184.24 261.59,183.70 263.33,183.17 265.07,182.63 266.81,182.09 268.55,181.56 270.28,181.03 272.02,180.50 273.76,179.97 275.50,179.45 277.24,178.92 278.97,178.40 280.71,177.88 282.45,177.35 284.19,176.83 285.93,176.32 287.66,175.80 289.40,175.28 291.14,174.77 292.88,174.25 294.62,173.74 296.35,173.23 298.09,172.71 299.83,172.20 301.57,171.69 303.31,171.18 305.04,170.68 306.78,170.17 308.52,169.66 310.26,169.15 312.00,168.65 313.73,168.14 315.47,167.63 317.21,167.13 318.95,166.62 320.69,166.12 322.42,165.61 324.16,165.11 325.90,164.60 327.64,164.09 329.38,163.59 331.11,163.08 332.85,162.58 334.59,162.07 336.33,161.57 338.07,161.06 339.80,160.55 341.54,160.05 343.28,159.54 345.02,159.03 346.76,158.52 348.49,158.02 350.23,157.51 351.97,157.00 353.71,156.49 355.45,155.97 357.18,155.46 358.92,154.95 360.66,154.43 362.40,153.92 364.14,153.40 365.87,152.88 367.61,152.37 369.35,151.85 371.09,151.32 372.83,150.80 374.56,150.28 376.30,149.75 378.04,149.23 379.78,148.70 381.52,148.17 383.25,147.64 384.99,147.11 386.73,146.57 388.47,146.03 390.21,145.50 391.94,144.96 393.68,144.41 395.42,143.87 397.16,143.32 398.90,142.78 400.63,142.22 402.37,141.67 404.11,141.12 405.85,140.56 407.59,140.00 409.32,139.43 411.06,138.87 412.80,138.30 412.80,108.56 411.06,109.77 409.32,110.97 407.59,112.17 405.85,113.37 404.11,114.55 402.37,115.74 400.63,116.92 398.90,118.09 397.16,119.26 395.42,120.42 393.68,121.58 391.94,122.74 390.21,123.89 388.47,125.04 386.73,126.18 384.99,127.32 383.25,128.46 381.52,129.59 379.78,130.72 378.04,131.84 376.30,132.96 374.56,134.08 372.83,135.20 371.09,136.31 369.35,137.42 367.61,138.53 365.87,139.63 364.14,140.74 362.40,141.84 360.66,142.93 358.92,144.03 357.18,145.12 355.45,146.22 353.71,147.31 351.97,148.40 350.23,149.48 348.49,150.57 346.76,151.65 345.02,152.74 343.28,153.82 341.54,154.90 339.80,155.98 338.07,157.06 336.33,158.14 334.59,159.22 332.85,160.29 331.11,161.37 329.38,162.45 327.64,163.52 325.90,164.60 324.16,165.68 322.42,166.75 320.69,167.83 318.95,168.91 317.21,169.98 315.47,171.06 313.73,172.14 312.00,173.22 310.26,174.30 308.52,175.38 306.78,176.46 305.04,177.55 303.31,178.63 301.57,179.72 299.83,180.80 298.09,181.89 296.35,182.98 294.62,184.08 292.88,185.17 291.14,186.27 289.40,187.36 287.66,188.46 285.93,189.57 284.19,190.67 282.45,191.78 280.71,192.89 278.97,194.00 277.24,195.12 275.50,196.24 273.76,197.36 272.02,198.48 270.28,199.61 268.55,200.74 266.81,201.88 265.07,203.02 263.33,204.16 261.59,205.31 259.86,206.46 258.12,207.62 256.38,208.78 254.64,209.94 252.90,211.11 251.17,212.28 249.43,213.46 247.69,214.65 245.95,215.83 244.21,217.03 242.48,218.23 240.74,219.43 239.00,220.64"/>
<polygon clip-path="url(#cb1)" fill="#c8620c" stroke="#c8620c" stroke-width="0.0" stroke-linejoin="round" points="239.00,181.10 240.74,180.75 242.48,180.39 244.21,180.04 245.95,179.69 247.69,179.34 249.43,178.99 251.17,178.64 252.90,178.30 254.64,177.95 256.38,177.61 258.12,177.27 259.86,176.93 261.59,176.59 263.33,176.25 265.07,175.91 266.81,175.58 268.55,175.24 270.28,174.91 272.02,174.58 273.76,174.25 275.50,173.92 277.24,173.59 278.97,173.26 280.71,172.93 282.45,172.60 284.19,172.28 285.93,171.95 287.66,171.63 289.40,171.30 291.14,170.98 292.88,170.66 294.62,170.34 296.35,170.01 298.09,169.69 299.83,169.37 301.57,169.05 303.31,168.73 305.04,168.41 306.78,168.09 308.52,167.78 310.26,167.46 312.00,167.14 313.73,166.82 315.47,166.50 317.21,166.19 318.95,165.87 320.69,165.55 322.42,165.23 324.16,164.92 325.90,164.60 327.64,164.28 329.38,163.97 331.11,163.65 332.85,163.33 334.59,163.01 336.33,162.70 338.07,162.38 339.80,162.06 341.54,161.74 343.28,161.42 345.02,161.11 346.76,160.79 348.49,160.47 350.23,160.15 351.97,159.83 353.71,159.51 355.45,159.19 357.18,158.86 358.92,158.54 360.66,158.22 362.40,157.90 364.14,157.57 365.87,157.25 367.61,156.92 369.35,156.60 371.09,156.27 372.83,155.94 374.56,155.61 376.30,155.28 378.04,154.95 379.78,154.62 381.52,154.29 383.25,153.96 384.99,153.62 386.73,153.29 388.47,152.95 390.21,152.61 391.94,152.27 393.68,151.93 395.42,151.59 397.16,151.25 398.90,150.90 400.63,150.56 402.37,150.21 404.11,149.86 405.85,149.51 407.59,149.16 409.32,148.81 411.06,148.45 412.80,148.10 412.80,138.30 411.06,138.87 409.32,139.43 407.59,140.00 405.85,140.56 404.11,141.12 402.37,141.67 400.63,142.22 398.90,142.78 397.16,143.32 395.42,143.87 393.68,144.41 391.94,144.96 390.21,145.50 388.47,146.03 386.73,146.57 384.99,147.11 383.25,147.64 381.52,148.17 379.78,148.70 378.04,149.23 376.30,149.75 374.56,150.28 372.83,150.80 371.09,151.32 369.35,151.85 367.61,152.37 365.87,152.88 364.14,153.40 362.40,153.92 360.66,154.43 358.92,154.95 357.18,155.46 355.45,155.97 353.71,156.49 351.97,157.00 350.23,157.51 348.49,158.02 346.76,158.52 345.02,159.03 343.28,159.54 341.54,160.05 339.80,160.55 338.07,161.06 336.33,161.57 334.59,162.07 332.85,162.58 331.11,163.08 329.38,163.59 327.64,164.09 325.90,164.60 324.16,165.11 322.42,165.61 320.69,166.12 318.95,166.62 317.21,167.13 315.47,167.63 313.73,168.14 312.00,168.65 310.26,169.15 308.52,169.66 306.78,170.17 305.04,170.68 303.31,171.18 301.57,171.69 299.83,172.20 298.09,172.71 296.35,173.23 294.62,173.74 292.88,174.25 291.14,174.77 289.40,175.28 287.66,175.80 285.93,176.32 284.19,176.83 282.45,177.35 280.71,177.88 278.97,178.40 277.24,178.92 275.50,179.45 273.76,179.97 272.02,180.50 270.28,181.03 268.55,181.56 266.81,182.09 265.07,182.63 263.33,183.17 261.59,183.70 259.86,184.24 258.12,184.79 256.38,185.33 254.64,185.88 252.90,186.42 251.17,186.98 249.43,187.53 247.69,188.08 245.95,188.64 244.21,189.20 242.48,189.77 240.74,190.33 239.00,190.90"/>
<polygon clip-path="url(#cb1)" fill="#ff0000" stroke="#ff0000" stroke-width="0.0" stroke-linejoin="round" points="239.00,174.19 240.74,173.99 242.48,173.78 244.21,173.58 245.95,173.37 247.69,173.17 249.43,172.96 251.17,172.76 252.90,172.56 254.64,172.36 256.38,172.16 258.12,171.96 259.86,171.77 261.59,171.57 263.33,171.37 265.07,171.18 266.81,170.98 268.55,170.79 270.28,170.59 272.02,170.40 273.76,170.21 275.50,170.02 277.24,169.82 278.97,169.63 280.71,169.44 282.45,169.25 284.19,169.06 285.93,168.87 287.66,168.69 289.40,168.50 291.14,168.31 292.88,168.12 294.62,167.93 296.35,167.75 298.09,167.56 299.83,167.37 301.57,167.19 303.31,167.00 305.04,166.82 306.78,166.63 308.52,166.45 310.26,166.26 312.00,166.08 313.73,165.89 315.47,165.71 317.21,165.52 318.95,165.34 320.69,165.15 322.42,164.97 324.16,164.78 325.90,164.60 327.64,164.42 329.38,164.23 331.11,164.05 332.85,163.86 334.59,163.68 336.33,163.49 338.07,163.31 339.80,163.12 341.54,162.94 343.28,162.75 345.02,162.57 346.76,162.38 348.49,162.20 350.23,162.01 351.97,161.83 353.71,161.64 355.45,161.45 357.18,161.27 358.92,161.08 360.66,160.89 362.40,160.70 364.14,160.51 365.87,160.33 367.61,160.14 369.35,159.95 371.09,159.76 372.83,159.57 374.56,159.38 376.30,159.18 378.04,158.99 379.78,158.80 381.52,158.61 383.25,158.41 384.99,158.22 386.73,158.02 388.47,157.83 390.21,157.63 391.94,157.43 393.68,157.24 395.42,157.04 397.16,156.84 398.90,156.64 400.63,156.44 402.37,156.24 404.11,156.03 405.85,155.83 407.59,155.62 409.32,155.42 411.06,155.21 412.80,155.01 412.80,148.10 411.06,148.45 409.32,148.81 407.59,149.16 405.85,149.51 404.11,149.86 402.37,150.21 400.63,150.56 398.90,150.90 397.16,151.25 395.42,151.59 393.68,151.93 391.94,152.27 390.21,152.61 388.47,152.95 386.73,153.29 384.99,153.62 383.25,153.96 381.52,154.29 379.78,154.62 378.04,154.95 376.30,155.28 374.56,155.61 372.83,155.94 371.09,156.27 369.35,156.60 367.61,156.92 365.87,157.25 364.14,157.57 362.40,157.90 360.66,158.22 358.92,158.54 357.18,158.86 355.45,159.19 353.71,159.51 351.97,159.83 350.23,160.15 348.49,160.47 346.76,160.79 345.02,161.11 343.28,161.42 341.54,161.74 339.80,162.06 338.07,162.38 336.33,162.70 334.59,163.01 332.85,163.33 331.11,163.65 329.38,163.97 327.64,164.28 325.90,164.60 324.16,164.92 322.42,165.23 320.69,165.55 318.95,165.87 317.21,166.19 315.47,166.50 313.73,166.82 312.00,167.14 310.26,167.46 308.52,167.78 306.78,168.09 305.04,168.41 303.31,168.73 301.57,169.05 299.83,169.37 298.09,169.69 296.35,170.01 294.62,170.34 292.88,170.66 291.14,170.98 289.40,171.30 287.66,171.63 285.93,171.95 284.19,172.28 282.45,172.60 280.71,172.93 278.97,173.26 277.24,173.59 275.50,173.92 273.76,174.25 272.02,174.58 270.28,174.91 268.55,175.24 266.81,175.58 265.07,175.91 263.33,176.25 261.59,176.59 259.86,176.93 258.12,177.27 256.38,177.61 254.64,177.95 252.90,178.30 251.17,178.64 249.43,178.99 247.69,179.34 245.95,179.69 244.21,180.04 242.48,180.39 240.74,180.75 239.00,181.10"/>
<path d="M256.38,250.5v-5M256.38,78.7v5M256.38,27.7v5M256.38,78.7v-5M273.76,250.5v-2.5M273.76,78.7v2.5M273.76,27.7v2.5M273.76,78.7v-2.5M291.14,250.5v-2.5M291.14,78.7v2.5M291.14,27.7v2.5M291.14,78.7v-2.5M308.52,250.5v-2.5M308.52,78.7v2.5M308.52,27.7v2.5M308.52,78.7v-2.5M325.90,250.5v-5M325.90,78.7v5M325.90,27.7v5M325.90,78.7v-5M343.28,250.5v-2.5M343.28,78.7v2.5M343.28,27.7v2.5M343.28,78.7v-2.5M360.66,250.5v-2.5M360.66,78.7v2.5M360.66,27.7v2.5M360.66,78.7v-2.5M378.04,250.5v-2.5M378.04,78.7v2.5M378.04,27.7v2.5M378.04,78.7v-2.5M395.42,250.5v-5M395.42,78.7v5M395.42,27.7v5M395.42,78.7v-5M239.0,238.23h2.5M412.8,238.23h-2.5M239.0,225.96h2.5M412.8,225.96h-2.5M239.0,213.69h5M412.8,213.69h-5M239.0,201.41h2.5M412.8,201.41h-2.5M239.0,189.14h2.5M412.8,189.14h-2.5M239.0,176.87h2.5M412.8,176.87h-2.5M239.0,164.60h5M412.8,164.60h-5M239.0,152.33h2.5M412.8,152.33h-2.5M239.0,140.06h2.5M412.8,140.06h-2.5M239.0,127.79h2.5M412.8,127.79h-2.5M239.0,115.51h5M412.8,115.51h-5M239.0,103.24h2.5M412.8,103.24h-2.5M239.0,90.97h2.5M412.8,90.97h-2.5M239.0,70.20h5M412.8,70.20h-5M239.0,61.70h2.5M412.8,61.70h-2.5M239.0,53.20h5M412.8,53.20h-5M239.0,44.70h2.5M412.8,44.70h-2.5M239.0,36.20h5M412.8,36.20h-5" stroke="#000" stroke-width="1" fill="none"/>
<rect x="239.0" y="27.7" width="173.8" height="51.0" fill="none" stroke="#000" stroke-width="1.4"/>
<rect x="239.0" y="78.7" width="173.8" height="171.8" fill="none" stroke="#000" stroke-width="1.4"/>
<g font-family='"Liberation Sans", sans-serif' font-size="13" fill="#000" text-anchor="middle">
<text x="256.38" y="267.2"><tspan dy="1.8">&#8722;</tspan><tspan dy="-1.8">1</tspan></text>
<text x="325.90" y="267.2">0</text>
<text x="395.42" y="267.2">1</text>
<text x="325.90" y="281.8" font-size="13.3" word-spacing="0.6">Hour angle (hr)</text>
<text x="256.38" y="23.0">0.04</text>
<text x="325.90" y="23.0">0.00</text>
<text x="395.42" y="23.0">0.04</text>
<path transform="translate(295.65,3.5)" d="M0,8.30L3.75,0L7.50,8.30ZM1.34,7.15L3.42,2.55L5.50,7.15Z" fill="#000" fill-rule="evenodd"/>
<text x="306.65" y="11.7" font-size="12.7" text-anchor="start">airmass</text>
</g>
<g font-family='"Liberation Sans", sans-serif' font-size="14">
<text x="252.10" y="100.3" font-family="'Liberation Serif', serif" font-size="15.5">&#948;</text>
<text transform="translate(262.90,100.6) scale(1.05,0.78)">=</text>
<text x="275.80" y="100.3"><tspan dy="1.8">&#8722;</tspan></text>
<text x="284.40" y="100.3">10</text>
<text x="300.50" y="93.6" font-size="8.5">o</text>
</g>
<clipPath id="ct2"><rect x="425.5" y="27.7" width="173.8" height="51.0"/></clipPath>
<clipPath id="cb2"><rect x="425.5" y="78.7" width="173.8" height="171.8"/></clipPath>
<polygon clip-path="url(#ct2)" fill="#0e9bf2" stroke="#0e9bf2" stroke-width="0.0" stroke-linejoin="round" points="425.50,57.76 427.24,57.57 428.98,57.39 430.71,57.21 432.45,57.04 434.19,56.87 435.93,56.70 437.67,56.54 439.40,56.38 441.14,56.23 442.88,56.08 444.62,55.93 446.36,55.79 448.09,55.65 449.83,55.52 451.57,55.39 453.31,55.26 455.05,55.14 456.78,55.03 458.52,54.91 460.26,54.80 462.00,54.69 463.74,54.59 465.47,54.49 467.21,54.40 468.95,54.31 470.69,54.22 472.43,54.14 474.16,54.06 475.90,53.98 477.64,53.91 479.38,53.84 481.12,53.77 482.85,53.71 484.59,53.65 486.33,53.60 488.07,53.54 489.81,53.50 491.54,53.45 493.28,53.41 495.02,53.38 496.76,53.34 498.50,53.31 500.23,53.29 501.97,53.26 503.71,53.24 505.45,53.23 507.19,53.22 508.92,53.21 510.66,53.20 512.40,53.20 514.14,53.20 515.88,53.21 517.61,53.22 519.35,53.23 521.09,53.24 522.83,53.26 524.57,53.29 526.30,53.31 528.04,53.34 529.78,53.38 531.52,53.41 533.26,53.45 534.99,53.50 536.73,53.54 538.47,53.60 540.21,53.65 541.95,53.71 543.68,53.77 545.42,53.84 547.16,53.91 548.90,53.98 550.64,54.06 552.37,54.14 554.11,54.22 555.85,54.31 557.59,54.40 559.33,54.49 561.06,54.59 562.80,54.69 564.54,54.80 566.28,54.91 568.02,55.03 569.75,55.14 571.49,55.26 573.23,55.39 574.97,55.52 576.71,55.65 578.44,55.79 580.18,55.93 581.92,56.08 583.66,56.23 585.40,56.38 587.13,56.54 588.87,56.70 590.61,56.87 592.35,57.04 594.09,57.21 595.82,57.39 597.56,57.57 599.30,57.76 599.30,62.47 597.56,62.09 595.82,61.72 594.09,61.36 592.35,61.00 590.61,60.66 588.87,60.32 587.13,59.99 585.40,59.67 583.66,59.36 581.92,59.05 580.18,58.76 578.44,58.47 576.71,58.19 574.97,57.92 573.23,57.65 571.49,57.40 569.75,57.15 568.02,56.91 566.28,56.68 564.54,56.46 562.80,56.24 561.06,56.03 559.33,55.83 557.59,55.64 555.85,55.45 554.11,55.27 552.37,55.10 550.64,54.94 548.90,54.78 547.16,54.64 545.42,54.49 543.68,54.36 541.95,54.24 540.21,54.12 538.47,54.01 536.73,53.90 534.99,53.80 533.26,53.71 531.52,53.63 529.78,53.56 528.04,53.49 526.30,53.43 524.57,53.37 522.83,53.33 521.09,53.29 519.35,53.26 517.61,53.23 515.88,53.21 514.14,53.20 512.40,53.20 510.66,53.20 508.92,53.21 507.19,53.23 505.45,53.26 503.71,53.29 501.97,53.33 500.23,53.37 498.50,53.43 496.76,53.49 495.02,53.56 493.28,53.63 491.54,53.71 489.81,53.80 488.07,53.90 486.33,54.01 484.59,54.12 482.85,54.24 481.12,54.36 479.38,54.49 477.64,54.64 475.90,54.78 474.16,54.94 472.43,55.10 470.69,55.27 468.95,55.45 467.21,55.64 465.47,55.83 463.74,56.03 462.00,56.24 460.26,56.46 458.52,56.68 456.78,56.91 455.05,57.15 453.31,57.40 451.57,57.65 449.83,57.92 448.09,58.19 446.36,58.47 444.62,58.76 442.88,59.05 441.14,59.36 439.40,59.67 437.67,59.99 435.93,60.32 434.19,60.66 432.45,61.00 430.71,61.36 428.98,61.72 427.24,62.09 425.50,62.47"/>
<polygon clip-path="url(#ct2)" fill="#c8620c" stroke="#c8620c" stroke-width="0.0" stroke-linejoin="round" points="425.50,56.01 427.24,55.89 428.98,55.78 430.71,55.67 432.45,55.56 434.19,55.46 435.93,55.36 437.67,55.26 439.40,55.16 441.14,55.06 442.88,54.97 444.62,54.88 446.36,54.80 448.09,54.71 449.83,54.63 451.57,54.55 453.31,54.47 455.05,54.40 456.78,54.32 458.52,54.25 460.26,54.19 462.00,54.12 463.74,54.06 465.47,54.00 467.21,53.94 468.95,53.88 470.69,53.83 472.43,53.78 474.16,53.73 475.90,53.68 477.64,53.63 479.38,53.59 481.12,53.55 482.85,53.51 484.59,53.48 486.33,53.44 488.07,53.41 489.81,53.38 491.54,53.36 493.28,53.33 495.02,53.31 496.76,53.29 498.50,53.27 500.23,53.25 501.97,53.24 503.71,53.23 505.45,53.22 507.19,53.21 508.92,53.20 510.66,53.20 512.40,53.20 514.14,53.20 515.88,53.20 517.61,53.21 519.35,53.22 521.09,53.23 522.83,53.24 524.57,53.25 526.30,53.27 528.04,53.29 529.78,53.31 531.52,53.33 533.26,53.36 534.99,53.38 536.73,53.41 538.47,53.44 540.21,53.48 541.95,53.51 543.68,53.55 545.42,53.59 547.16,53.63 548.90,53.68 550.64,53.73 552.37,53.78 554.11,53.83 555.85,53.88 557.59,53.94 559.33,54.00 561.06,54.06 562.80,54.12 564.54,54.19 566.28,54.25 568.02,54.32 569.75,54.40 571.49,54.47 573.23,54.55 574.97,54.63 576.71,54.71 578.44,54.80 580.18,54.88 581.92,54.97 583.66,55.06 585.40,55.16 587.13,55.26 588.87,55.36 590.61,55.46 592.35,55.56 594.09,55.67 595.82,55.78 597.56,55.89 599.30,56.01 599.30,57.76 597.56,57.57 595.82,57.39 594.09,57.21 592.35,57.04 590.61,56.87 588.87,56.70 587.13,56.54 585.40,56.38 583.66,56.23 581.92,56.08 580.18,55.93 578.44,55.79 576.71,55.65 574.97,55.52 573.23,55.39 571.49,55.26 569.75,55.14 568.02,55.03 566.28,54.91 564.54,54.80 562.80,54.69 561.06,54.59 559.33,54.49 557.59,54.40 555.85,54.31 554.11,54.22 552.37,54.14 550.64,54.06 548.90,53.98 547.16,53.91 545.42,53.84 543.68,53.77 541.95,53.71 540.21,53.65 538.47,53.60 536.73,53.54 534.99,53.50 533.26,53.45 531.52,53.41 529.78,53.38 528.04,53.34 526.30,53.31 524.57,53.29 522.83,53.26 521.09,53.24 519.35,53.23 517.61,53.22 515.88,53.21 514.14,53.20 512.40,53.20 510.66,53.20 508.92,53.21 507.19,53.22 505.45,53.23 503.71,53.24 501.97,53.26 500.23,53.29 498.50,53.31 496.76,53.34 495.02,53.38 493.28,53.41 491.54,53.45 489.81,53.50 488.07,53.54 486.33,53.60 484.59,53.65 482.85,53.71 481.12,53.77 479.38,53.84 477.64,53.91 475.90,53.98 474.16,54.06 472.43,54.14 470.69,54.22 468.95,54.31 467.21,54.40 465.47,54.49 463.74,54.59 462.00,54.69 460.26,54.80 458.52,54.91 456.78,55.03 455.05,55.14 453.31,55.26 451.57,55.39 449.83,55.52 448.09,55.65 446.36,55.79 444.62,55.93 442.88,56.08 441.14,56.23 439.40,56.38 437.67,56.54 435.93,56.70 434.19,56.87 432.45,57.04 430.71,57.21 428.98,57.39 427.24,57.57 425.50,57.76"/>
<polygon clip-path="url(#ct2)" fill="#ff0000" stroke="#ff0000" stroke-width="0.0" stroke-linejoin="round" points="425.50,54.89 427.24,54.82 428.98,54.75 430.71,54.69 432.45,54.62 434.19,54.56 435.93,54.50 437.67,54.44 439.40,54.38 441.14,54.32 442.88,54.27 444.62,54.21 446.36,54.16 448.09,54.11 449.83,54.06 451.57,54.01 453.31,53.97 455.05,53.92 456.78,53.88 458.52,53.83 460.26,53.79 462.00,53.75 463.74,53.72 465.47,53.68 467.21,53.64 468.95,53.61 470.69,53.58 472.43,53.55 474.16,53.52 475.90,53.49 477.64,53.46 479.38,53.44 481.12,53.41 482.85,53.39 484.59,53.37 486.33,53.35 488.07,53.33 489.81,53.31 491.54,53.29 493.28,53.28 495.02,53.27 496.76,53.25 498.50,53.24 500.23,53.23 501.97,53.22 503.71,53.22 505.45,53.21 507.19,53.21 508.92,53.20 510.66,53.20 512.40,53.20 514.14,53.20 515.88,53.20 517.61,53.21 519.35,53.21 521.09,53.22 522.83,53.22 524.57,53.23 526.30,53.24 528.04,53.25 529.78,53.27 531.52,53.28 533.26,53.29 534.99,53.31 536.73,53.33 538.47,53.35 540.21,53.37 541.95,53.39 543.68,53.41 545.42,53.44 547.16,53.46 548.90,53.49 550.64,53.52 552.37,53.55 554.11,53.58 555.85,53.61 557.59,53.64 559.33,53.68 561.06,53.72 562.80,53.75 564.54,53.79 566.28,53.83 568.02,53.88 569.75,53.92 571.49,53.97 573.23,54.01 574.97,54.06 576.71,54.11 578.44,54.16 580.18,54.21 581.92,54.27 583.66,54.32 585.40,54.38 587.13,54.44 588.87,54.50 590.61,54.56 592.35,54.62 594.09,54.69 595.82,54.75 597.56,54.82 599.30,54.89 599.30,56.01 597.56,55.89 595.82,55.78 594.09,55.67 592.35,55.56 590.61,55.46 588.87,55.36 587.13,55.26 585.40,55.16 583.66,55.06 581.92,54.97 580.18,54.88 578.44,54.80 576.71,54.71 574.97,54.63 573.23,54.55 571.49,54.47 569.75,54.40 568.02,54.32 566.28,54.25 564.54,54.19 562.80,54.12 561.06,54.06 559.33,54.00 557.59,53.94 555.85,53.88 554.11,53.83 552.37,53.78 550.64,53.73 548.90,53.68 547.16,53.63 545.42,53.59 543.68,53.55 541.95,53.51 540.21,53.48 538.47,53.44 536.73,53.41 534.99,53.38 533.26,53.36 531.52,53.33 529.78,53.31 528.04,53.29 526.30,53.27 524.57,53.25 522.83,53.24 521.09,53.23 519.35,53.22 517.61,53.21 515.88,53.20 514.14,53.20 512.40,53.20 510.66,53.20 508.92,53.20 507.19,53.21 505.45,53.22 503.71,53.23 501.97,53.24 500.23,53.25 498.50,53.27 496.76,53.29 495.02,53.31 493.28,53.33 491.54,53.36 489.81,53.38 488.07,53.41 486.33,53.44 484.59,53.48 482.85,53.51 481.12,53.55 479.38,53.59 477.64,53.63 475.90,53.68 474.16,53.73 472.43,53.78 470.69,53.83 468.95,53.88 467.21,53.94 465.47,54.00 463.74,54.06 462.00,54.12 460.26,54.19 458.52,54.25 456.78,54.32 455.05,54.40 453.31,54.47 451.57,54.55 449.83,54.63 448.09,54.71 446.36,54.80 444.62,54.88 442.88,54.97 441.14,55.06 439.40,55.16 437.67,55.26 435.93,55.36 434.19,55.46 432.45,55.56 430.71,55.67 428.98,55.78 427.24,55.89 425.50,56.01"/>
<linearGradient id="lg2" gradientUnits="userSpaceOnUse" x1="425.5" y1="0" x2="599.3" y2="0"><stop offset="0" stop-color="#30475e" stop-opacity="0"/><stop offset="0.14" stop-color="#30475e" stop-opacity="0.3"/><stop offset="0.3" stop-color="#30475e" stop-opacity="0.95"/><stop offset="0.42" stop-color="#30475e" stop-opacity="0.5"/><stop offset="0.5" stop-color="#30475e" stop-opacity="0.12"/><stop offset="0.58" stop-color="#30475e" stop-opacity="0.5"/><stop offset="0.7" stop-color="#30475e" stop-opacity="0.95"/><stop offset="0.86" stop-color="#30475e" stop-opacity="0.3"/><stop offset="1" stop-color="#30475e" stop-opacity="0"/></linearGradient>
<path d="M425.50,56.22 L427.24,56.10 L428.98,55.98 L430.71,55.86 L432.45,55.74 L434.19,55.63 L435.93,55.52 L437.67,55.41 L439.40,55.31 L441.14,55.20 L442.88,55.11 L444.62,55.01 L446.36,54.92 L448.09,54.82 L449.83,54.74 L451.57,54.65 L453.31,54.57 L455.05,54.49 L456.78,54.41 L458.52,54.33 L460.26,54.26 L462.00,54.19 L463.74,54.12 L465.47,54.06 L467.21,53.99 L468.95,53.93 L470.69,53.88 L472.43,53.82 L474.16,53.77 L475.90,53.72 L477.64,53.67 L479.38,53.62 L481.12,53.58 L482.85,53.54 L484.59,53.50 L486.33,53.46 L488.07,53.43 L489.81,53.40 L491.54,53.37 L493.28,53.34 L495.02,53.32 L496.76,53.29 L498.50,53.27 L500.23,53.26 L501.97,53.24 L503.71,53.23 L505.45,53.22 L507.19,53.21 L508.92,53.20 L510.66,53.20 L512.40,53.20 L514.14,53.20 L515.88,53.20 L517.61,53.21 L519.35,53.22 L521.09,53.23 L522.83,53.24 L524.57,53.26 L526.30,53.27 L528.04,53.29 L529.78,53.32 L531.52,53.34 L533.26,53.37 L534.99,53.40 L536.73,53.43 L538.47,53.46 L540.21,53.50 L541.95,53.54 L543.68,53.58 L545.42,53.62 L547.16,53.67 L548.90,53.72 L550.64,53.77 L552.37,53.82 L554.11,53.88 L555.85,53.93 L557.59,53.99 L559.33,54.06 L561.06,54.12 L562.80,54.19 L564.54,54.26 L566.28,54.33 L568.02,54.41 L569.75,54.49 L571.49,54.57 L573.23,54.65 L574.97,54.74 L576.71,54.82 L578.44,54.92 L580.18,55.01 L581.92,55.11 L583.66,55.20 L585.40,55.31 L587.13,55.41 L588.87,55.52 L590.61,55.63 L592.35,55.74 L594.09,55.86 L595.82,55.98 L597.56,56.10 L599.30,56.22" fill="none" stroke="url(#lg2)" stroke-width="1.2" clip-path="url(#ct2)"/>
<polygon clip-path="url(#cb2)" fill="#0e9bf2" stroke="#0e9bf2" stroke-width="0.0" stroke-linejoin="round" points="425.50,188.12 427.24,187.62 428.98,187.12 430.71,186.63 432.45,186.13 434.19,185.64 435.93,185.15 437.67,184.66 439.40,184.18 441.14,183.69 442.88,183.21 444.62,182.72 446.36,182.24 448.09,181.76 449.83,181.28 451.57,180.81 453.31,180.33 455.05,179.86 456.78,179.38 458.52,178.91 460.26,178.44 462.00,177.97 463.74,177.50 465.47,177.03 467.21,176.56 468.95,176.09 470.69,175.63 472.43,175.16 474.16,174.70 475.90,174.23 477.64,173.77 479.38,173.31 481.12,172.85 482.85,172.38 484.59,171.92 486.33,171.46 488.07,171.00 489.81,170.54 491.54,170.09 493.28,169.63 495.02,169.17 496.76,168.71 498.50,168.25 500.23,167.80 501.97,167.34 503.71,166.88 505.45,166.43 507.19,165.97 508.92,165.51 510.66,165.06 512.40,164.60 514.14,164.14 515.88,163.69 517.61,163.23 519.35,162.77 521.09,162.32 522.83,161.86 524.57,161.40 526.30,160.95 528.04,160.49 529.78,160.03 531.52,159.57 533.26,159.11 534.99,158.66 536.73,158.20 538.47,157.74 540.21,157.28 541.95,156.82 543.68,156.35 545.42,155.89 547.16,155.43 548.90,154.97 550.64,154.50 552.37,154.04 554.11,153.57 555.85,153.11 557.59,152.64 559.33,152.17 561.06,151.70 562.80,151.23 564.54,150.76 566.28,150.29 568.02,149.82 569.75,149.34 571.49,148.87 573.23,148.39 574.97,147.92 576.71,147.44 578.44,146.96 580.18,146.48 581.92,145.99 583.66,145.51 585.40,145.02 587.13,144.54 588.87,144.05 590.61,143.56 592.35,143.07 594.09,142.57 595.82,142.08 597.56,141.58 599.30,141.08 599.30,116.79 597.56,117.80 595.82,118.81 594.09,119.82 592.35,120.82 590.61,121.82 588.87,122.82 587.13,123.81 585.40,124.80 583.66,125.79 581.92,126.77 580.18,127.75 578.44,128.73 576.71,129.71 574.97,130.68 573.23,131.65 571.49,132.62 569.75,133.58 568.02,134.55 566.28,135.51 564.54,136.47 562.80,137.42 561.06,138.38 559.33,139.33 557.59,140.28 555.85,141.23 554.11,142.18 552.37,143.13 550.64,144.07 548.90,145.01 547.16,145.96 545.42,146.90 543.68,147.84 541.95,148.77 540.21,149.71 538.47,150.65 536.73,151.58 534.99,152.51 533.26,153.45 531.52,154.38 529.78,155.31 528.04,156.24 526.30,157.17 524.57,158.10 522.83,159.03 521.09,159.96 519.35,160.89 517.61,161.82 515.88,162.74 514.14,163.67 512.40,164.60 510.66,165.53 508.92,166.46 507.19,167.38 505.45,168.31 503.71,169.24 501.97,170.17 500.23,171.10 498.50,172.03 496.76,172.96 495.02,173.89 493.28,174.82 491.54,175.75 489.81,176.69 488.07,177.62 486.33,178.55 484.59,179.49 482.85,180.43 481.12,181.36 479.38,182.30 477.64,183.24 475.90,184.19 474.16,185.13 472.43,186.07 470.69,187.02 468.95,187.97 467.21,188.92 465.47,189.87 463.74,190.82 462.00,191.78 460.26,192.73 458.52,193.69 456.78,194.65 455.05,195.62 453.31,196.58 451.57,197.55 449.83,198.52 448.09,199.49 446.36,200.47 444.62,201.45 442.88,202.43 441.14,203.41 439.40,204.40 437.67,205.39 435.93,206.38 434.19,207.38 432.45,208.38 430.71,209.38 428.98,210.39 427.24,211.40 425.50,212.41"/>
<polygon clip-path="url(#cb2)" fill="#c8620c" stroke="#c8620c" stroke-width="0.0" stroke-linejoin="round" points="425.50,179.08 427.24,178.78 428.98,178.47 430.71,178.17 432.45,177.86 434.19,177.56 435.93,177.26 437.67,176.96 439.40,176.66 441.14,176.36 442.88,176.06 444.62,175.76 446.36,175.47 448.09,175.17 449.83,174.88 451.57,174.58 453.31,174.29 455.05,174.00 456.78,173.70 458.52,173.41 460.26,173.12 462.00,172.83 463.74,172.54 465.47,172.25 467.21,171.97 468.95,171.68 470.69,171.39 472.43,171.11 474.16,170.82 475.90,170.53 477.64,170.25 479.38,169.96 481.12,169.68 482.85,169.39 484.59,169.11 486.33,168.83 488.07,168.54 489.81,168.26 491.54,167.98 493.28,167.70 495.02,167.41 496.76,167.13 498.50,166.85 500.23,166.57 501.97,166.29 503.71,166.01 505.45,165.72 507.19,165.44 508.92,165.16 510.66,164.88 512.40,164.60 514.14,164.32 515.88,164.04 517.61,163.76 519.35,163.48 521.09,163.19 522.83,162.91 524.57,162.63 526.30,162.35 528.04,162.07 529.78,161.79 531.52,161.50 533.26,161.22 534.99,160.94 536.73,160.66 538.47,160.37 540.21,160.09 541.95,159.81 543.68,159.52 545.42,159.24 547.16,158.95 548.90,158.67 550.64,158.38 552.37,158.09 554.11,157.81 555.85,157.52 557.59,157.23 559.33,156.95 561.06,156.66 562.80,156.37 564.54,156.08 566.28,155.79 568.02,155.50 569.75,155.20 571.49,154.91 573.23,154.62 574.97,154.32 576.71,154.03 578.44,153.73 580.18,153.44 581.92,153.14 583.66,152.84 585.40,152.54 587.13,152.24 588.87,151.94 590.61,151.64 592.35,151.34 594.09,151.03 595.82,150.73 597.56,150.42 599.30,150.12 599.30,141.08 597.56,141.58 595.82,142.08 594.09,142.57 592.35,143.07 590.61,143.56 588.87,144.05 587.13,144.54 585.40,145.02 583.66,145.51 581.92,145.99 580.18,146.48 578.44,146.96 576.71,147.44 574.97,147.92 573.23,148.39 571.49,148.87 569.75,149.34 568.02,149.82 566.28,150.29 564.54,150.76 562.80,151.23 561.06,151.70 559.33,152.17 557.59,152.64 555.85,153.11 554.11,153.57 552.37,154.04 550.64,154.50 548.90,154.97 547.16,155.43 545.42,155.89 543.68,156.35 541.95,156.82 540.21,157.28 538.47,157.74 536.73,158.20 534.99,158.66 533.26,159.11 531.52,159.57 529.78,160.03 528.04,160.49 526.30,160.95 524.57,161.40 522.83,161.86 521.09,162.32 519.35,162.77 517.61,163.23 515.88,163.69 514.14,164.14 512.40,164.60 510.66,165.06 508.92,165.51 507.19,165.97 505.45,166.43 503.71,166.88 501.97,167.34 500.23,167.80 498.50,168.25 496.76,168.71 495.02,169.17 493.28,169.63 491.54,170.09 489.81,170.54 488.07,171.00 486.33,171.46 484.59,171.92 482.85,172.38 481.12,172.85 479.38,173.31 477.64,173.77 475.90,174.23 474.16,174.70 472.43,175.16 470.69,175.63 468.95,176.09 467.21,176.56 465.47,177.03 463.74,177.50 462.00,177.97 460.26,178.44 458.52,178.91 456.78,179.38 455.05,179.86 453.31,180.33 451.57,180.81 449.83,181.28 448.09,181.76 446.36,182.24 444.62,182.72 442.88,183.21 441.14,183.69 439.40,184.18 437.67,184.66 435.93,185.15 434.19,185.64 432.45,186.13 430.71,186.63 428.98,187.12 427.24,187.62 425.50,188.12"/>
<polygon clip-path="url(#cb2)" fill="#ff0000" stroke="#ff0000" stroke-width="0.0" stroke-linejoin="round" points="425.50,173.32 427.24,173.14 428.98,172.95 430.71,172.77 432.45,172.59 434.19,172.40 435.93,172.22 437.67,172.04 439.40,171.86 441.14,171.68 442.88,171.50 444.62,171.32 446.36,171.14 448.09,170.97 449.83,170.79 451.57,170.61 453.31,170.43 455.05,170.26 456.78,170.08 458.52,169.91 460.26,169.73 462.00,169.56 463.74,169.38 465.47,169.21 467.21,169.04 468.95,168.86 470.69,168.69 472.43,168.52 474.16,168.34 475.90,168.17 477.64,168.00 479.38,167.83 481.12,167.66 482.85,167.49 484.59,167.32 486.33,167.15 488.07,166.97 489.81,166.80 491.54,166.63 493.28,166.46 495.02,166.29 496.76,166.12 498.50,165.95 500.23,165.79 501.97,165.62 503.71,165.45 505.45,165.28 507.19,165.11 508.92,164.94 510.66,164.77 512.40,164.60 514.14,164.43 515.88,164.26 517.61,164.09 519.35,163.92 521.09,163.75 522.83,163.58 524.57,163.41 526.30,163.25 528.04,163.08 529.78,162.91 531.52,162.74 533.26,162.57 534.99,162.40 536.73,162.23 538.47,162.05 540.21,161.88 541.95,161.71 543.68,161.54 545.42,161.37 547.16,161.20 548.90,161.03 550.64,160.86 552.37,160.68 554.11,160.51 555.85,160.34 557.59,160.16 559.33,159.99 561.06,159.82 562.80,159.64 564.54,159.47 566.28,159.29 568.02,159.12 569.75,158.94 571.49,158.77 573.23,158.59 574.97,158.41 576.71,158.23 578.44,158.06 580.18,157.88 581.92,157.70 583.66,157.52 585.40,157.34 587.13,157.16 588.87,156.98 590.61,156.80 592.35,156.61 594.09,156.43 595.82,156.25 597.56,156.06 599.30,155.88 599.30,150.12 597.56,150.42 595.82,150.73 594.09,151.03 592.35,151.34 590.61,151.64 588.87,151.94 587.13,152.24 585.40,152.54 583.66,152.84 581.92,153.14 580.18,153.44 578.44,153.73 576.71,154.03 574.97,154.32 573.23,154.62 571.49,154.91 569.75,155.20 568.02,155.50 566.28,155.79 564.54,156.08 562.80,156.37 561.06,156.66 559.33,156.95 557.59,157.23 555.85,157.52 554.11,157.81 552.37,158.09 550.64,158.38 548.90,158.67 547.16,158.95 545.42,159.24 543.68,159.52 541.95,159.81 540.21,160.09 538.47,160.37 536.73,160.66 534.99,160.94 533.26,161.22 531.52,161.50 529.78,161.79 528.04,162.07 526.30,162.35 524.57,162.63 522.83,162.91 521.09,163.19 519.35,163.48 517.61,163.76 515.88,164.04 514.14,164.32 512.40,164.60 510.66,164.88 508.92,165.16 507.19,165.44 505.45,165.72 503.71,166.01 501.97,166.29 500.23,166.57 498.50,166.85 496.76,167.13 495.02,167.41 493.28,167.70 491.54,167.98 489.81,168.26 488.07,168.54 486.33,168.83 484.59,169.11 482.85,169.39 481.12,169.68 479.38,169.96 477.64,170.25 475.90,170.53 474.16,170.82 472.43,171.11 470.69,171.39 468.95,171.68 467.21,171.97 465.47,172.25 463.74,172.54 462.00,172.83 460.26,173.12 458.52,173.41 456.78,173.70 455.05,174.00 453.31,174.29 451.57,174.58 449.83,174.88 448.09,175.17 446.36,175.47 444.62,175.76 442.88,176.06 441.14,176.36 439.40,176.66 437.67,176.96 435.93,177.26 434.19,177.56 432.45,177.86 430.71,178.17 428.98,178.47 427.24,178.78 425.50,179.08"/>
<path d="M442.88,250.5v-5M442.88,78.7v5M442.88,27.7v5M442.88,78.7v-5M460.26,250.5v-2.5M460.26,78.7v2.5M460.26,27.7v2.5M460.26,78.7v-2.5M477.64,250.5v-2.5M477.64,78.7v2.5M477.64,27.7v2.5M477.64,78.7v-2.5M495.02,250.5v-2.5M495.02,78.7v2.5M495.02,27.7v2.5M495.02,78.7v-2.5M512.40,250.5v-5M512.40,78.7v5M512.40,27.7v5M512.40,78.7v-5M529.78,250.5v-2.5M529.78,78.7v2.5M529.78,27.7v2.5M529.78,78.7v-2.5M547.16,250.5v-2.5M547.16,78.7v2.5M547.16,27.7v2.5M547.16,78.7v-2.5M564.54,250.5v-2.5M564.54,78.7v2.5M564.54,27.7v2.5M564.54,78.7v-2.5M581.92,250.5v-5M581.92,78.7v5M581.92,27.7v5M581.92,78.7v-5M425.5,238.23h2.5M599.3,238.23h-2.5M425.5,225.96h2.5M599.3,225.96h-2.5M425.5,213.69h5M599.3,213.69h-5M425.5,201.41h2.5M599.3,201.41h-2.5M425.5,189.14h2.5M599.3,189.14h-2.5M425.5,176.87h2.5M599.3,176.87h-2.5M425.5,164.60h5M599.3,164.60h-5M425.5,152.33h2.5M599.3,152.33h-2.5M425.5,140.06h2.5M599.3,140.06h-2.5M425.5,127.79h2.5M599.3,127.79h-2.5M425.5,115.51h5M599.3,115.51h-5M425.5,103.24h2.5M599.3,103.24h-2.5M425.5,90.97h2.5M599.3,90.97h-2.5M425.5,70.20h5M599.3,70.20h-5M425.5,61.70h2.5M599.3,61.70h-2.5M425.5,53.20h5M599.3,53.20h-5M425.5,44.70h2.5M599.3,44.70h-2.5M425.5,36.20h5M599.3,36.20h-5" stroke="#000" stroke-width="1" fill="none"/>
<rect x="425.5" y="27.7" width="173.8" height="51.0" fill="none" stroke="#000" stroke-width="1.4"/>
<rect x="425.5" y="78.7" width="173.8" height="171.8" fill="none" stroke="#000" stroke-width="1.4"/>
<g font-family='"Liberation Sans", sans-serif' font-size="13" fill="#000" text-anchor="middle">
<text x="442.88" y="267.2"><tspan dy="1.8">&#8722;</tspan><tspan dy="-1.8">1</tspan></text>
<text x="512.40" y="267.2">0</text>
<text x="581.92" y="267.2">1</text>
<text x="512.40" y="281.8" font-size="13.3" word-spacing="0.6">Hour angle (hr)</text>
<text x="442.88" y="23.0">0.03</text>
<text x="512.40" y="23.0">0.00</text>
<text x="581.92" y="23.0">0.03</text>
<path transform="translate(482.15,3.5)" d="M0,8.30L3.75,0L7.50,8.30ZM1.34,7.15L3.42,2.55L5.50,7.15Z" fill="#000" fill-rule="evenodd"/>
<text x="493.15" y="11.7" font-size="12.7" text-anchor="start">airmass</text>
</g>
<g font-family='"Liberation Sans", sans-serif' font-size="14">
<text x="438.60" y="100.3" font-family="'Liberation Serif', serif" font-size="15.5">&#948;</text>
<text transform="translate(449.40,100.6) scale(1.05,0.78)">=</text>
<text x="462.30" y="100.3">+</text>
<text x="470.90" y="100.3">20</text>
<text x="487.00" y="93.6" font-size="8.5">o</text>
</g>
<g font-family='"Liberation Sans", sans-serif' font-size="13" text-anchor="end">
<text x="47.2" y="40.70">0.1</text>
<text x="47.2" y="57.70">0.0</text>
<text x="47.2" y="74.70"><tspan dy="1.8">&#8722;</tspan><tspan dy="-1.8">0.1</tspan></text>
<text x="49" y="120.01">1.0</text>
<text x="49" y="169.10">0.0</text>
<text x="49" y="218.19"><tspan dy="1.8">&#8722;</tspan><tspan dy="-1.8">1.0</tspan></text>
</g>
<path transform="translate(2.8,76.9) rotate(-90)" d="M0,8.30L3.75,0L7.50,8.30ZM1.34,7.15L3.42,2.55L5.50,7.15Z" fill="#000" fill-rule="evenodd"/>
<text transform="translate(11.6,65.7) rotate(-90) scale(1.06,1)" font-family='"Liberation Sans", sans-serif' font-size="12.7">Dec</text>
<text transform="translate(14.2,42.0) rotate(-90) scale(1.17,1)" font-family='"Liberation Sans", sans-serif' font-size="7.6">DCR</text>
<path transform="translate(3.1,204.8) rotate(-90)" d="M0,8.30L3.75,0L7.50,8.30ZM1.34,7.15L3.42,2.55L5.50,7.15Z" fill="#000" fill-rule="evenodd"/>
<text transform="translate(11.2,193.0) rotate(-90) scale(1.0,1)" font-family='"Liberation Sans", sans-serif' font-size="12.7">RA</text>
<text transform="translate(14.8,175.6) rotate(-90) scale(1.17,1)" font-family='"Liberation Sans", sans-serif' font-size="7.6">DCR</text>
<text transform="translate(10.9,152.5) rotate(-90) scale(1.0,1)" font-family='"Liberation Sans", sans-serif' font-size="13.0">(mas)</text>
<g font-family='"Liberation Sans", sans-serif' font-size="12.3" text-anchor="end" word-spacing="0.2">
<text x="586.5" y="199.8" fill="#e01a1e" style="stroke:#e01a1e">late<tspan dy="1">&#8722;</tspan><tspan dy="-1">M dwarfs</tspan></text>
<text x="586.5" y="214.7" fill="#bb6f38" style="stroke:#bb6f38">L dwarfs</text>
<text x="586.5" y="229.4" fill="#2d98df" style="stroke:#2d98df">T dwarfs</text>
</g>
</svg></body></html>
